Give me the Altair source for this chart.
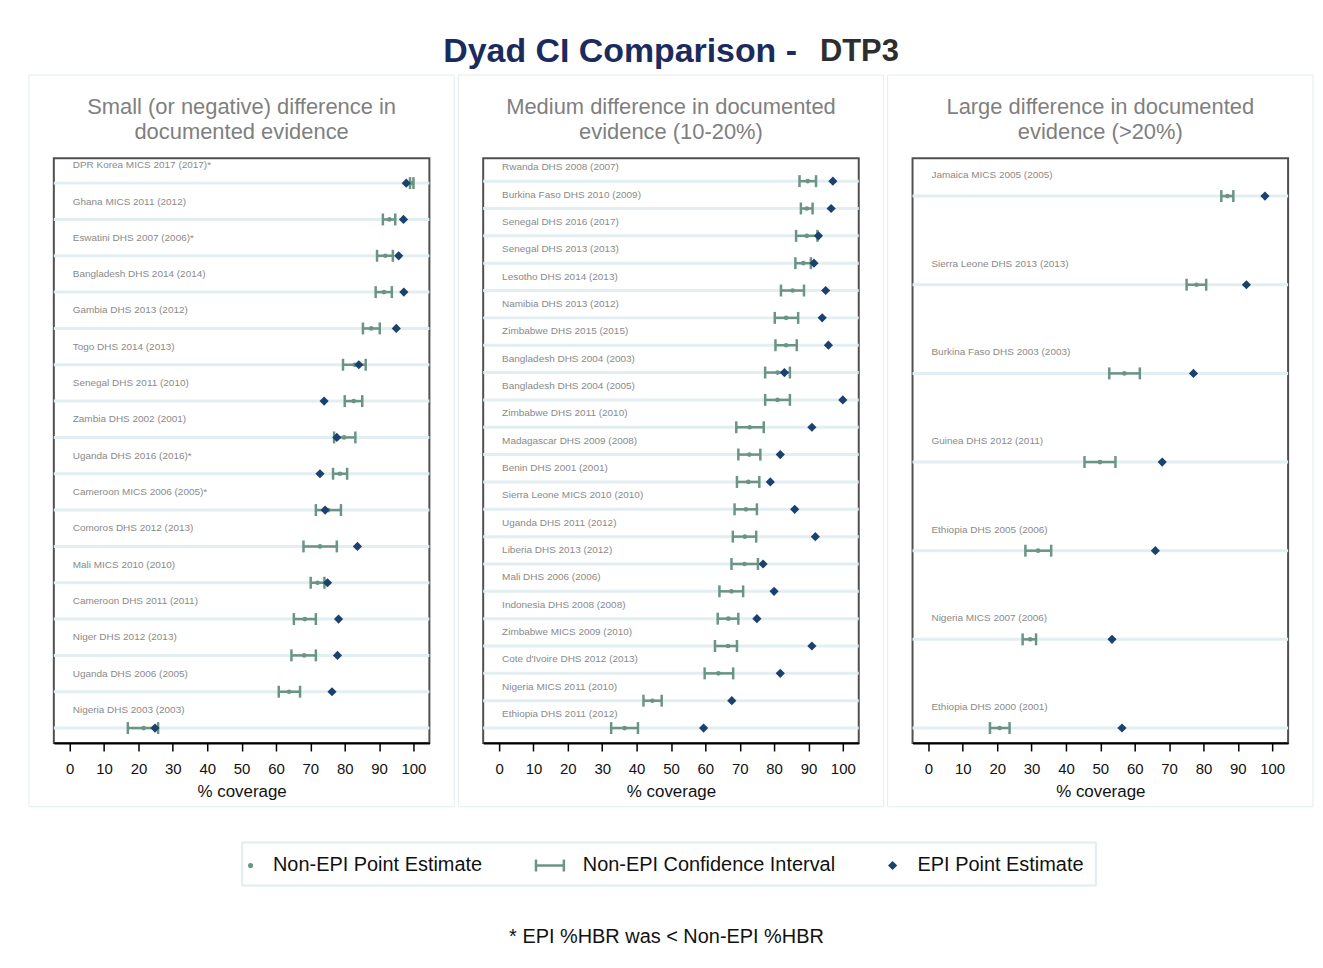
import altair as alt
import pandas as pd

# ---------------- data ----------------
small_labels = [
    "DPR Korea MICS 2017 (2017)*", "Ghana MICS 2011 (2012)", "Eswatini DHS 2007 (2006)*",
    "Bangladesh DHS 2014 (2014)", "Gambia DHS 2013 (2012)", "Togo DHS 2014 (2013)",
    "Senegal DHS 2011 (2010)", "Zambia DHS 2002 (2001)", "Uganda DHS 2016 (2016)*",
    "Cameroon MICS 2006 (2005)*", "Comoros DHS 2012 (2013)", "Mali MICS 2010 (2010)",
    "Cameroon DHS 2011 (2011)", "Niger DHS 2012 (2013)", "Uganda DHS 2006 (2005)",
    "Nigeria DHS 2003 (2003)",
]
small_est = [99.6, 93.0, 91.8, 91.4, 87.7, 82.9, 82.6, 79.8, 78.6, 75.2, 72.8, 72.1, 68.4, 68.2, 63.8, 21.5]
small_lo = [99.0, 91.1, 89.4, 89.0, 85.3, 79.5, 80.0, 76.9, 76.6, 71.6, 68.0, 70.1, 65.2, 64.5, 60.8, 16.9]
small_hi = [100.0, 94.7, 94.0, 93.7, 90.2, 86.1, 85.1, 83.1, 80.7, 78.9, 77.7, 74.1, 71.6, 71.6, 67.0, 25.7]
small_epi = [97.9, 97.1, 95.7, 97.2, 95.0, 84.1, 74.0, 77.7, 72.8, 74.3, 83.7, 75.0, 78.2, 77.9, 76.3, 24.8]

medium_labels = [
    "Rwanda DHS 2008 (2007)", "Burkina Faso DHS 2010 (2009)", "Senegal DHS 2016 (2017)",
    "Senegal DHS 2013 (2013)", "Lesotho DHS 2014 (2013)", "Namibia DHS 2013 (2012)",
    "Zimbabwe DHS 2015 (2015)", "Bangladesh DHS 2004 (2003)", "Bangladesh DHS 2004 (2005)",
    "Zimbabwe DHS 2011 (2010)", "Madagascar DHS 2009 (2008)", "Benin DHS 2001 (2001)",
    "Sierra Leone MICS 2010 (2010)", "Uganda DHS 2011 (2012)", "Liberia DHS 2013 (2012)",
    "Mali DHS 2006 (2006)", "Indonesia DHS 2008 (2008)", "Zimbabwe MICS 2009 (2010)",
    "Cote d'Ivoire DHS 2012 (2013)", "Nigeria MICS 2011 (2010)", "Ethiopia DHS 2011 (2012)",
]
medium_est = [89.8, 89.5, 89.5, 88.5, 85.4, 83.5, 83.5, 81.0, 81.0, 72.9, 72.8, 72.5, 71.8, 71.5, 71.4,
              67.6, 66.7, 66.6, 63.8, 44.6, 36.5]
medium_lo = [87.4, 87.8, 86.4, 86.2, 82.0, 80.2, 80.4, 77.4, 77.4, 69.0, 69.6, 69.2, 68.5, 68.0, 67.6,
             64.1, 63.6, 62.8, 59.8, 42.0, 32.6]
medium_hi = [92.2, 91.2, 92.6, 90.7, 88.7, 87.0, 86.6, 84.6, 84.6, 77.0, 76.0, 75.7, 75.0, 74.8, 75.3,
             71.0, 69.6, 69.2, 68.1, 47.3, 40.4]
medium_epi = [97.1, 96.6, 92.9, 91.6, 95.0, 94.0, 95.8, 83.0, 100.0, 91.0, 81.8, 78.9, 86.0, 92.0, 76.8,
              80.0, 75.0, 91.0, 81.8, 67.7, 59.5]

large_labels = [
    "Jamaica MICS 2005 (2005)", "Sierra Leone DHS 2013 (2013)", "Burkina Faso DHS 2003 (2003)",
    "Guinea DHS 2012 (2011)", "Ethiopia DHS 2005 (2006)", "Nigeria MICS 2007 (2006)",
    "Ethiopia DHS 2000 (2001)",
]
large_est = [87.0, 78.0, 57.0, 49.9, 31.9, 29.6, 20.7]
large_lo = [85.2, 75.1, 52.6, 45.4, 28.2, 27.4, 17.9]
large_hi = [88.7, 80.8, 61.5, 54.4, 35.7, 31.3, 23.6]
large_epi = [97.9, 92.5, 77.1, 68.0, 66.0, 53.4, 56.3]

panel_titles = [
    ["Small (or negative) difference in", "documented evidence"],
    ["Medium difference in documented", "evidence (10-20%)"],
    ["Large difference in documented", "evidence (>20%)"],
]
x_ticks = list(range(0, 101, 10))
legend_labels = ["Non-EPI Point Estimate", "Non-EPI Confidence Interval", "EPI Point Estimate"]
title_parts = ["Dyad CI Comparison -", "DTP3"]
footnote = "* EPI %HBR was < Non-EPI %HBR"

# ---------------- styling ----------------
GREEN = "#6a9584"
NAVY = "#1b426e"
TITLE_NAVY = "#1c2b5e"
ROWLINE = "#e3eef3"
BOX = "#e2edf0"
LABEL_GRAY = "#8a8a8a"
W, H = 377, 587
ROW_W = 1100   # width of the title / legend rows (origin = left edge of first plot)

x_scale = alt.Scale(domain=[-4.63, 104.63], nice=False, zero=False)
x_axis = alt.Axis(values=x_ticks, title="% coverage", grid=False)


def panel(labels, est, lo, hi, epi, titles, pad_top, pad_bot, label_dy):
    n = len(labels)
    df = pd.DataFrame({"label": labels, "row": list(range(n)), "est": est,
                       "lo": lo, "hi": hi, "epi": epi})
    base = alt.Chart(df)
    y = alt.Y("row:Q", scale=alt.Scale(domain=[n - 1 + pad_bot, -pad_top], nice=False, zero=False),
              axis=None)
    rows = base.mark_rule(color=ROWLINE, strokeWidth=3).encode(
        x=alt.value(0), x2=alt.value(W), y=y)
    labs = base.mark_text(align="left", baseline="middle", fontSize=10, color=LABEL_GRAY,
                          dy=label_dy).encode(x=alt.value(19), y=y, text="label:N")
    ci = base.mark_rule(color=GREEN, strokeWidth=2.5).encode(
        x=alt.X("lo:Q", scale=x_scale, axis=x_axis), x2="hi:Q", y=y)
    cap_lo = base.mark_tick(orient="vertical", color=GREEN, thickness=2.5, size=12, opacity=1).encode(
        x=alt.X("lo:Q", scale=x_scale, axis=x_axis), y=y)
    cap_hi = base.mark_tick(orient="vertical", color=GREEN, thickness=2.5, size=12, opacity=1).encode(
        x=alt.X("hi:Q", scale=x_scale, axis=x_axis), y=y)
    dot = base.mark_point(shape="circle", filled=True, size=22, color=GREEN, opacity=1).encode(
        x=alt.X("est:Q", scale=x_scale, axis=x_axis), y=y)
    dia = base.mark_point(shape="diamond", filled=True, size=85, color=NAVY, opacity=1).encode(
        x=alt.X("epi:Q", scale=x_scale, axis=x_axis), y=y)

    one = alt.Chart(pd.DataFrame({"k": [0]}))
    box = one.mark_rect(fill="transparent", stroke=BOX, strokeWidth=1).encode(
        x=alt.value(-25), x2=alt.value(W + 25), y=alt.value(-83.5), y2=alt.value(H + 64))
    t1 = one.mark_text(align="center", baseline="middle", fontSize=22, color="#7f7f7f").encode(
        x=alt.value(W / 2), y=alt.value(-51), text=alt.value(titles[0]))
    t2 = one.mark_text(align="center", baseline="middle", fontSize=22, color="#7f7f7f").encode(
        x=alt.value(W / 2), y=alt.value(-26), text=alt.value(titles[1]))

    return alt.layer(box, t1, t2, rows, labs, ci, cap_lo, cap_hi, dot, dia).properties(
        width=W, height=H, view=alt.ViewBackground(stroke="#505050", strokeWidth=2))


p1 = panel(small_labels, small_est, small_lo, small_hi, small_epi, panel_titles[0], 0.6855, 0.411, -18)
p2 = panel(medium_labels, medium_est, medium_lo, medium_hi, medium_epi, panel_titles[1], 0.838, 0.546, -14)
p3 = panel(large_labels, large_est, large_lo, large_hi, large_epi, panel_titles[2], 0.427, 0.169, -21)

one = alt.Chart(pd.DataFrame({"k": [0]}))
NOVIEW = alt.ViewBackground(stroke="transparent", strokeWidth=0)

# ---------------- title row ----------------
title_chart = alt.layer(
    one.mark_text(align="right", baseline="middle", fontSize=34, fontWeight="bold", color=TITLE_NAVY).encode(
        x=alt.value(746), y=alt.value(22), text=alt.value(title_parts[0])),
    one.mark_text(align="left", baseline="middle", fontSize=31, fontWeight="bold", color="#2e2e2e").encode(
        x=alt.value(769), y=alt.value(22), text=alt.value(title_parts[1])),
).properties(width=ROW_W, height=43.5, view=NOVIEW)

# ---------------- legend row ----------------
LX = 189
LY = 23
txt = dict(align="left", baseline="middle", fontSize=20, color="#111111")
leg = alt.layer(
    one.mark_rect(fill="transparent", stroke=BOX, strokeWidth=2).encode(
        x=alt.value(LX), x2=alt.value(LX + 857), y=alt.value(0), y2=alt.value(43)),
    one.mark_point(shape="circle", filled=True, size=26, color=GREEN, opacity=1).encode(
        x=alt.value(LX + 8.5), y=alt.value(LY)),
    one.mark_text(**txt).encode(x=alt.value(LX + 31), y=alt.value(LY), text=alt.value(legend_labels[0])),
    one.mark_rule(color=GREEN, strokeWidth=2.5).encode(
        x=alt.value(LX + 295), x2=alt.value(LX + 323), y=alt.value(LY)),
    one.mark_rule(color=GREEN, strokeWidth=2.5).encode(
        x=alt.value(LX + 295), y=alt.value(LY - 6), y2=alt.value(LY + 6)),
    one.mark_rule(color=GREEN, strokeWidth=2.5).encode(
        x=alt.value(LX + 323), y=alt.value(LY - 6), y2=alt.value(LY + 6)),
    one.mark_text(**txt).encode(x=alt.value(LX + 342), y=alt.value(LY), text=alt.value(legend_labels[1])),
    one.mark_point(shape="diamond", filled=True, size=85, color=NAVY, opacity=1).encode(
        x=alt.value(LX + 653), y=alt.value(LY)),
    one.mark_text(**txt).encode(x=alt.value(LX + 678), y=alt.value(LY), text=alt.value(legend_labels[2])),
    one.mark_text(align="center", baseline="middle", fontSize=20, color="#111111").encode(
        x=alt.value(615), y=alt.value(95), text=alt.value(footnote)),
).properties(width=ROW_W, height=43, view=NOVIEW)

chart = alt.vconcat(
    title_chart,
    alt.vconcat(alt.hconcat(p1, p2, p3, spacing=0), leg, spacing=33),
    spacing=0,
).properties(
    padding={"left": 19, "top": 20, "right": 0, "bottom": 0},
).configure(
    font="Liberation Sans"
).configure_axis(
    domainColor="black", domainWidth=2, tickColor="black", tickWidth=1.5, tickSize=8,
    labelFontSize=15, labelColor="#111111", labelPadding=11,
    titleFontSize=17, titleFontWeight="normal", titleColor="#111111", titlePadding=7,
)

chart.save("out.html", embed_options={"renderer": "svg", "actions": False})
